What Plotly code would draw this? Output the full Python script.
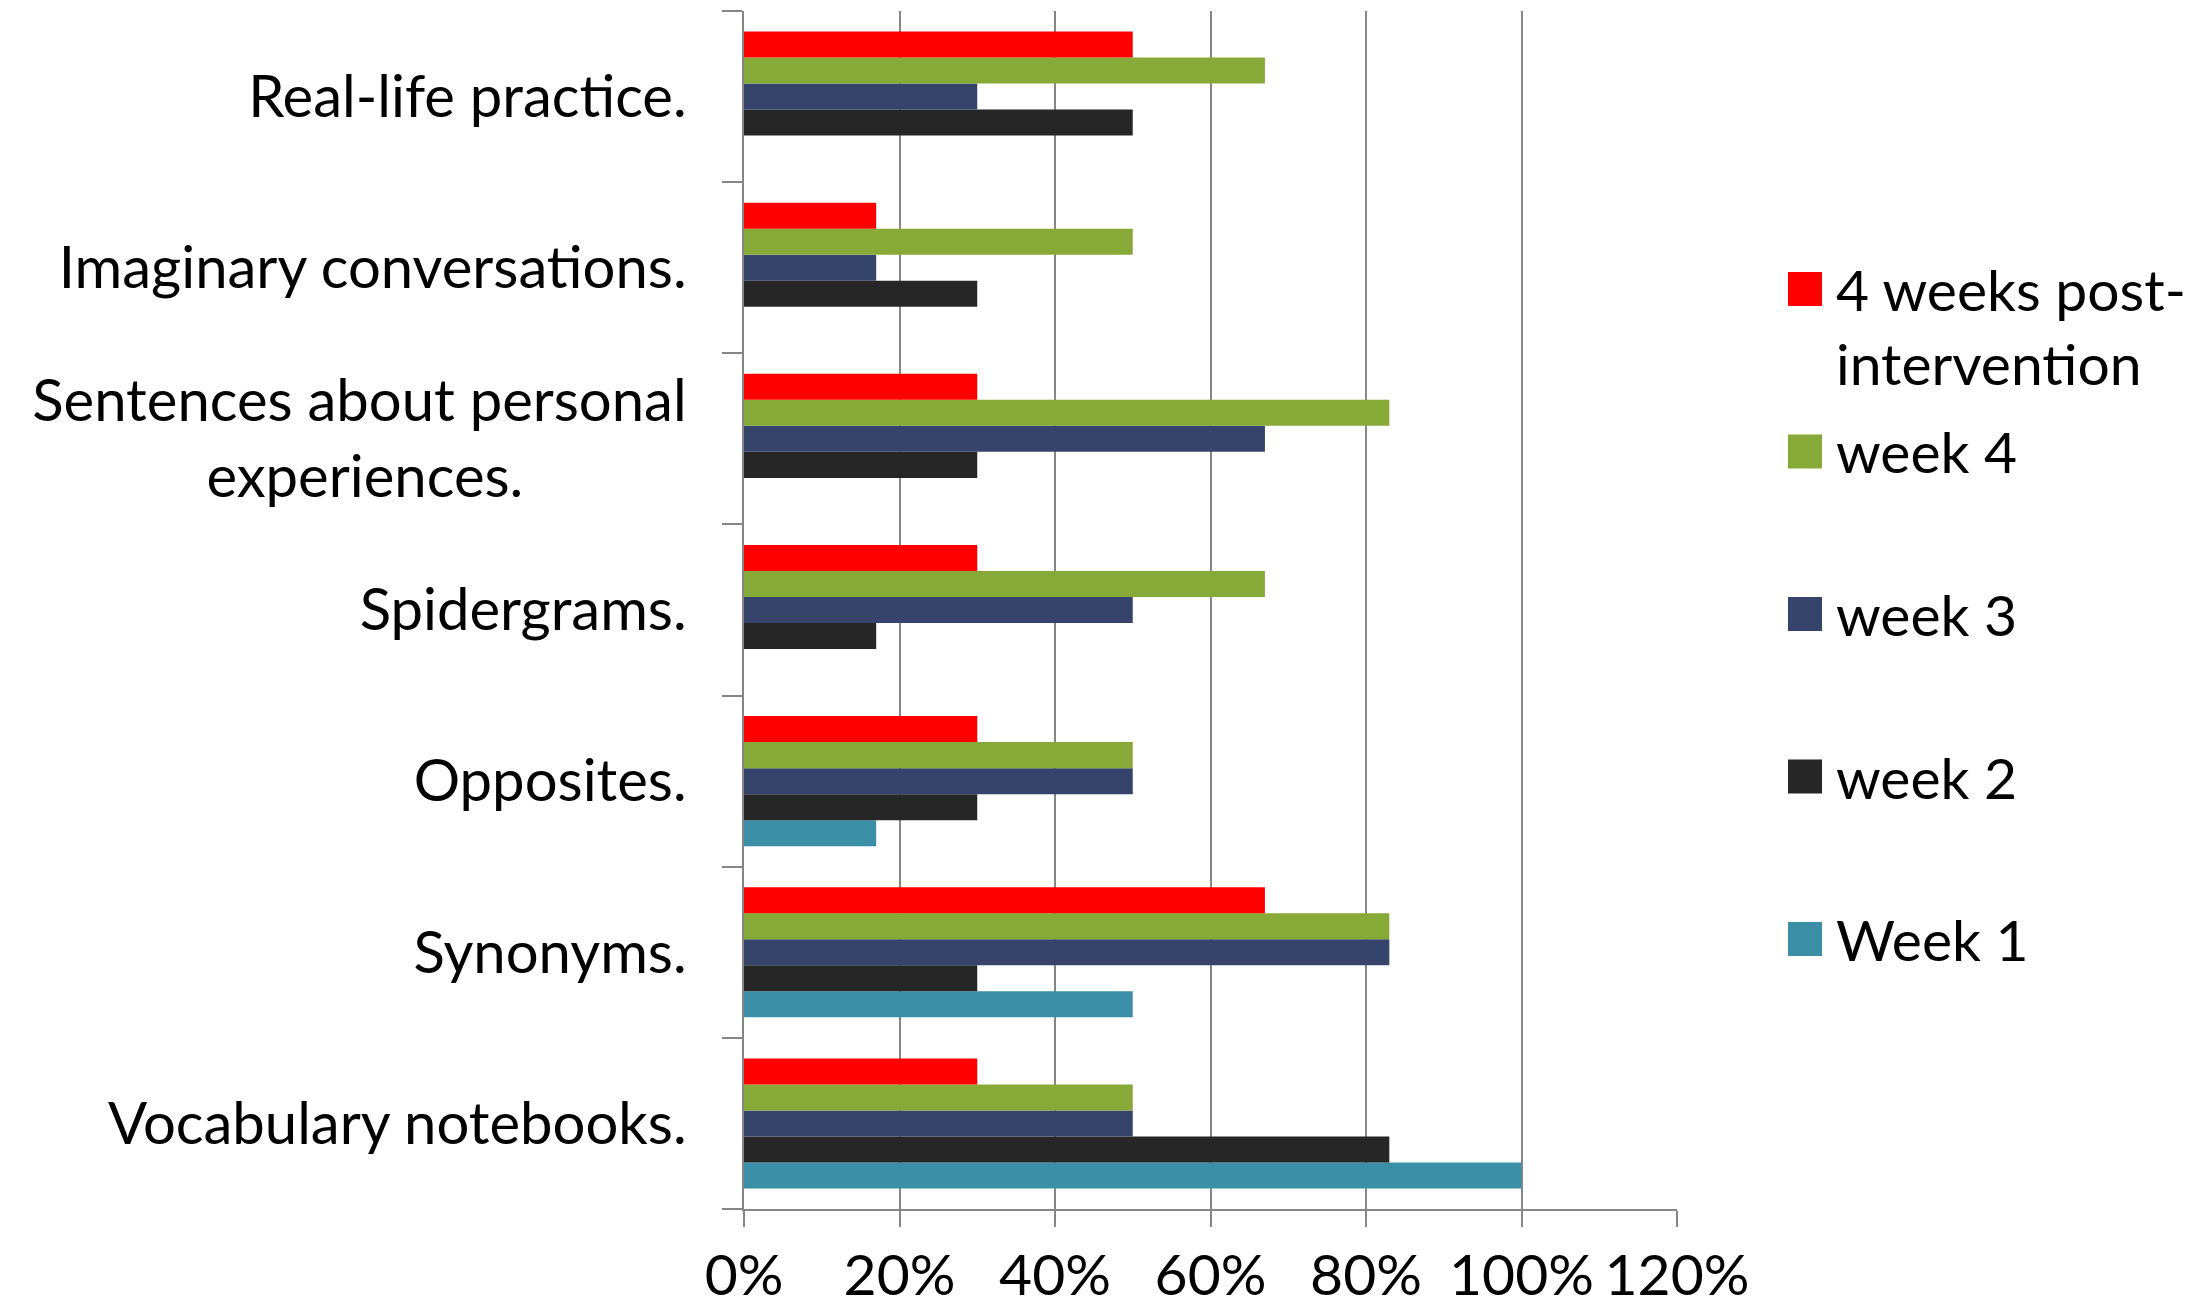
import plotly.graph_objects as go

# Categories listed bottom-to-top as they appear on the y axis
categories = [
    "Vocabulary notebooks.",
    "Synonyms.",
    "Opposites.",
    "Spidergrams.",
    "Sentences about personal<br>experiences." + "\u00a0" * 11,
    "Imaginary conversations.",
    "Real-life practice.",
]

series_names = ["Week 1", "week 2", "week 3", "week 4", "4 weeks post-intervention"]
legend_labels = ["Week 1", "week 2", "week 3", "week 4", "4 weeks post-<br>intervention"]
series_colors = ["#3A8FA7", "#262626", "#36436A", "#86A937", "#FF0000"]

week1 = [1.00, 0.50, 0.17, None, None, None, None]
week2 = [0.83, 0.30, 0.30, 0.17, 0.30, 0.30, 0.50]
week3 = [0.50, 0.83, 0.50, 0.50, 0.67, 0.17, 0.30]
week4 = [0.50, 0.83, 0.50, 0.67, 0.83, 0.50, 0.67]
post4 = [0.30, 0.67, 0.30, 0.30, 0.30, 0.17, 0.50]

series_values = [week1, week2, week3, week4, post4]

x_ticks = [0, 0.2, 0.4, 0.6, 0.8, 1.0, 1.2]

FONT = "Lato"
FSIZE = 58
GRID = "#868686"

W, H = 2202, 1311
L, R, T, B = 744, 525, 11, 102
PW, PH = W - L - R, H - T - B


def px_x(x):
    return (x - L) / PW


def px_y(y):
    return (H - B - y) / PH


fig = go.Figure()
for name, vals, color in zip(series_names, series_values, series_colors):
    fig.add_trace(go.Bar(
        y=categories, x=vals, orientation="h", name=name,
        marker=dict(color=color, line=dict(width=0)),
        showlegend=False,
    ))

# Legend drawn as square swatches with text, top entry = last series
line_h = 57 * 1.3
first_center, step = 289, 162.5
shapes, annotations = [], []
for i, (label, color) in enumerate(zip(legend_labels[::-1], series_colors[::-1])):
    cy = first_center + i * step
    shapes.append(dict(
        type="rect", xref="paper", yref="paper",
        x0=px_x(1788), x1=px_x(1822), y0=px_y(cy + 17), y1=px_y(cy - 17),
        fillcolor=color, line=dict(width=0),
    ))
    nlines = label.count("<br>") + 1
    ty = cy + (nlines - 1) * line_h / 2
    annotations.append(dict(
        xref="paper", yref="paper", x=px_x(1834), y=px_y(ty),
        xanchor="left", yanchor="middle", align="left", showarrow=False,
        text=label, font=dict(family=FONT, size=57, color="black"),
    ))

fig.update_layout(
    width=W, height=H,
    margin=dict(l=L, r=R, t=T, b=B, pad=0),
    template="none",
    paper_bgcolor="white", plot_bgcolor="white",
    barmode="group", bargap=0.24, bargroupgap=0,
    font=dict(family=FONT, size=FSIZE, color="black"),
    shapes=shapes, annotations=annotations,
    showlegend=False,
)

fig.update_xaxes(
    range=[0, 1.2], tickvals=x_ticks, tickformat=".0%",
    showgrid=True, gridcolor=GRID, gridwidth=1.5,
    showline=True, linecolor=GRID, linewidth=1.5,
    ticks="outside", ticklen=16, tickcolor=GRID, tickwidth=1.5,
    zeroline=False, tickfont=dict(family=FONT, size=57, color="black"),
)

fig.update_yaxes(
    type="category", categoryorder="array", categoryarray=categories,
    range=[-0.5, 6.5],
    showgrid=False, showline=True, linecolor=GRID, linewidth=1.5,
    ticks="outside", tickson="boundaries", ticklen=20, tickcolor=GRID, tickwidth=1.5,
    ticklabelstandoff=44,
    zeroline=False, tickfont=dict(family=FONT, size=FSIZE, color="black"),
)

fig.write_html("out.html")
